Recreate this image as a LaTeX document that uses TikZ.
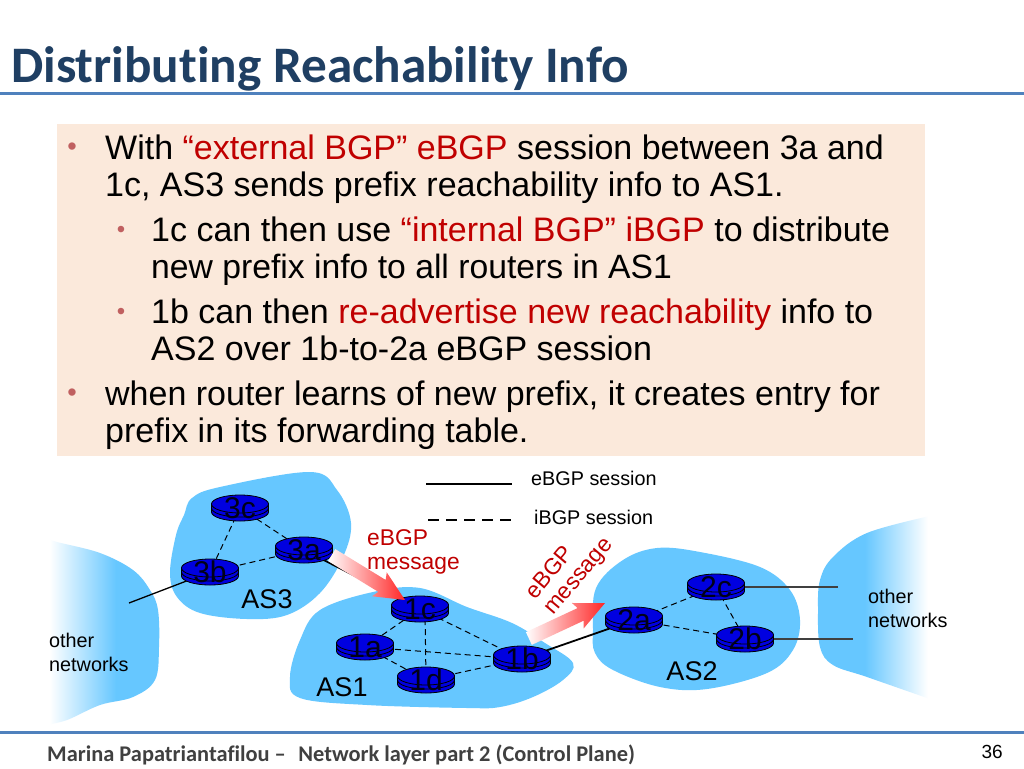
\documentclass[tikz,border=0pt]{standalone}
\usepackage{fontspec}
\setmainfont{Liberation Sans}
\newfontfamily\carl[Ligatures=NoCommon]{Carlito}
\usetikzlibrary{shapes.geometric}
\pgfdeclarelayer{under}\pgfdeclarelayer{blobs}\pgfdeclarelayer{links}\pgfdeclarelayer{over}
\pgfsetlayers{under,blobs,links,main,over}
\definecolor{blob}{HTML}{66C7FF}
\definecolor{rblue}{HTML}{0000E0}
\definecolor{titleblue}{HTML}{1F3F63}
\definecolor{rulec}{HTML}{4F81BD}
\definecolor{boxc}{HTML}{FBE9DB}
\definecolor{redt}{HTML}{C00000}
\definecolor{bul}{HTML}{C06060}
\definecolor{foot}{HTML}{404040}
\pgfdeclarehorizontalshading{fadeL}{100bp}{rgb(0bp)=(1,1,1); rgb(27bp)=(1,1,1); rgb(56bp)=(.4,.78,1); rgb(100bp)=(.4,.78,1)}
\pgfdeclarehorizontalshading{fadeR}{100bp}{rgb(0bp)=(.4,.78,1); rgb(46bp)=(.4,.78,1); rgb(74bp)=(1,1,1); rgb(100bp)=(1,1,1)}
\tikzset{
 x=1pt,y=-1pt,
 ibgp/.style={draw=black,line width=1pt,dash pattern=on 6pt off 4pt},
 ebgp/.style={draw=black,line width=1.8pt},
 otherlink/.style={draw=black!75,line width=1.1pt},
 blobshape/.style={fill=blob,draw=none},
 body/.style={anchor=base west,font=\fontsize{34}{34}\selectfont,inner sep=0pt},
 bullet/.style={anchor=center,text=bul,font=\fontsize{27}{27}\selectfont,inner sep=0pt},
 subbullet/.style={anchor=center,text=bul,font=\fontsize{24}{24}\selectfont,inner sep=0pt},
 label/.style={anchor=base west,inner sep=0pt,font=\fontsize{19.8}{24}\selectfont,align=left},
 aslabel/.style={anchor=center,inner sep=0pt,font=\fontsize{27}{27}\selectfont},
 redlabel/.style={text=redt,inner sep=0pt,font=\fontsize{22.8}{24}\selectfont,align=left}
}
\newcommand{\rtr}[3]{%
  \fill[rblue,draw=black,line width=.8pt] (#2-28.5,#3-4) -- (#2-28.5,#3+4) arc[start angle=180,end angle=360,x radius=28.5pt,y radius=9pt] -- (#2+28.5,#3-4) -- cycle;
  \draw[black,line width=.8pt] (#2-28.5,#3) arc[start angle=180,end angle=360,x radius=28.5pt,y radius=9pt];
  \node[ellipse,draw=black,fill=rblue,line width=.8pt,minimum width=57pt,minimum height=18pt,inner sep=0pt] at (#2,#3-4) {};
  \node[draw=none,fill=none,inner sep=0pt,minimum width=57pt,minimum height=26pt,font=\fontsize{30}{30}\selectfont,text=black!90!blue] (#1) at (#2,#3) {#1};
}
\begin{document}
\begin{tikzpicture}
\useasboundingbox (0,0) rectangle (1024,768);
\begin{pgfonlayer}{under}
\fill[white] (0,0) rectangle (1024,768);
\end{pgfonlayer}
% title
\node[anchor=base west,inner sep=0pt,text=titleblue,font=\carl\bfseries\fontsize{51.2}{51.2}\selectfont] (title) at (11,82) {Distributing Reachability Info};
\coordinate (tl) at (0,93); \coordinate (tr) at (1024,93);
\draw[rulec,line width=3pt] (tl) -- (tr);
% text box
\fill[boxc] (57,124) rectangle (925,456);
\node[bullet] (b1) at (72,149) {•};
\node[body] (l1) at (105,159) {With \textcolor{redt}{“external BGP” eBGP} session between 3a and};
\node[body] (l2) at (105,196) {1c, AS3 sends prefix reachability info to AS1.};
\node[subbullet] (b2) at (121,232) {•};
\node[body] (l3) at (151,241) {1c can then use \textcolor{redt}{“internal BGP” iBGP} to distribute};
\node[body,font=\fontsize{33.7}{34}\selectfont] (l4) at (151,278) {new prefix info to all routers in AS1};
\node[subbullet] (b3) at (121,314) {•};
\node[body] (l5) at (151,323) {1b can then \textcolor{redt}{re-advertise new reachability} info to};
\node[body] (l6) at (151,360) {AS2 over 1b-to-2a eBGP session};
\node[bullet] (b4) at (72,395) {•};
\node[body] (l7) at (105,405) {when router learns of new prefix, it creates entry for};
\node[body] (l8) at (105,442) {prefix in its forwarding table.};
% legend
\coordinate (e1) at (426,484); \coordinate (e2) at (512,484);
\coordinate (i1) at (428,520); \coordinate (i2) at (514,520);
\draw[black,line width=2.4pt] (e1) -- (e2);
\draw[black,line width=2.4pt,dash pattern=on 11pt off 7pt] (i1) -- (i2);
\node[label] (le) at (531,485) {eBGP session};
\node[label] (li) at (534,524) {iBGP session};
% routers
\rtr{3c}{240}{508}
\rtr{3a}{304}{550}
\rtr{3b}{210}{572}
\rtr{1c}{420}{609}
\rtr{1a}{365}{647}
\rtr{1d}{426}{680}
\rtr{1b}{522}{659}
\rtr{2a}{634}{620}
\rtr{2c}{716}{587}
\rtr{2b}{745}{639}
% blobs
\begin{pgfonlayer}{under}
\fill[blobshape] plot[smooth cycle,tension=.6] coordinates {(192,498)(220,487)(310,472)(337,490)(351,523)(343,557)(320,593)(287,615)(247,619)(200,613)(177,597)(170,573)(176,535)(184,515)};
\draw[ebgp] (3a.center) -- (1c.center);
\end{pgfonlayer}
\begin{pgfonlayer}{blobs}
\fill[blobshape] plot[smooth cycle,tension=.6] coordinates {(290,677)(300,640)(320,610)(373,592)(420,588)(467,607)(512,623)(545,643)(573,663)(563,680)(533,697)(500,707)(467,708)(367,705)(300,698)};
\fill[blobshape] plot[smooth cycle,tension=.6] coordinates {(596,588)(623,560)(657,548)(700,552)(760,567)(790,590)(800,620)(793,650)(767,673)(707,689)(660,687)(613,670)(595,653)(593,630)};
\shade[shading=fadeL] plot[smooth,tension=.6] coordinates {(45,538)(57,542)(100,553)(133,570)(150,590)(158,610)(159,647)(155,680)(133,697)(100,705)(67,720)(45,725)} -- cycle;
\shade[shading=fadeR] plot[smooth,tension=.6] coordinates {(930,516)(867,533)(833,557)(820,580)(818,610)(820,647)(833,665)(867,677)(930,699)} -- cycle;
\end{pgfonlayer}
\begin{pgfonlayer}{links}
\coordinate (oL) at (129,603);
\coordinate (oR1) at (838,587);
\coordinate (oR2) at (853,639);
\draw[ibgp] (3c.center) -- (3a.center);
\draw[ibgp] (3c.center) -- (3b.center);
\draw[ibgp] (3a.center) -- (3b.center);
\draw[ibgp] (1c.center) -- (1a.center);
\draw[ibgp] ([xshift=5pt]1c.center) -- (1d.center);
\draw[ibgp] (1c.center) -- (1b.center);
\draw[ibgp] (1a.center) -- (1d.center);
\draw[ibgp] (1a.center) -- (1b.center);
\draw[ibgp] (1d.center) -- (1b.center);
\draw[ibgp] (2a.center) -- (2c.center);
\draw[ibgp] (2a.center) -- (2b.center);
\draw[ibgp] (2c.center) -- (2b.center);
\draw[draw=black,line width=1.3pt] (3b.center) -- (oL);
\draw[ebgp] (1b.center) -- (2a.center);
\draw[otherlink] (2c.center) -- (oR1);
\draw[otherlink] (2b.center) -- (oR2);
\end{pgfonlayer}
% fat arrows
\begin{pgfonlayer}{over}
\begin{scope}[shift={(405,600)},rotate=-31.5]
\shade[left color=white,right color=red!85!white] (0,0) -- (-30,-14) -- (-27,-7) -- (-86,-7) -- (-86,7) -- (-27,7) -- (-30,14) -- cycle;
\end{scope}
\begin{scope}[shift={(605,603)},rotate=25]
\shade[left color=white,right color=red!85!white] (0,0) -- (-30,-14) -- (-27,-7) -- (-84,-7) -- (-84,7) -- (-27,7) -- (-30,14) -- cycle;
\end{scope}
\end{pgfonlayer}
% labels
\node[aslabel] (as3) at (267,599) {AS3};
\node[aslabel] (as1) at (342,687) {AS1};
\node[aslabel] (as2) at (692,671) {AS2};
\node[label] (on1) at (49,671) {other\\networks};
\node[label] (on2) at (868,627) {other\\networks};
\node[redlabel,anchor=base west] (m1) at (367,569) {eBGP\\message};
\node[redlabel,rotate=50,anchor=center] (m2) at (570,569) {eBGP\\message};
% footer
\coordinate (fl) at (0,732); \coordinate (fr) at (1024,732);
\draw[rulec,line width=3pt] (fl) -- (fr);
\node[anchor=base west,inner sep=0pt,text=foot,font=\carl\bfseries\fontsize{22.4}{22.4}\selectfont] (ft) at (47,761) {Marina Papatriantafilou –\,\, Network layer part 2 (Control Plane)};
\node[anchor=base east,inner sep=0pt,font=\fontsize{19}{19}\selectfont] (pg) at (1003,758) {36};
\end{tikzpicture}
\end{document}
